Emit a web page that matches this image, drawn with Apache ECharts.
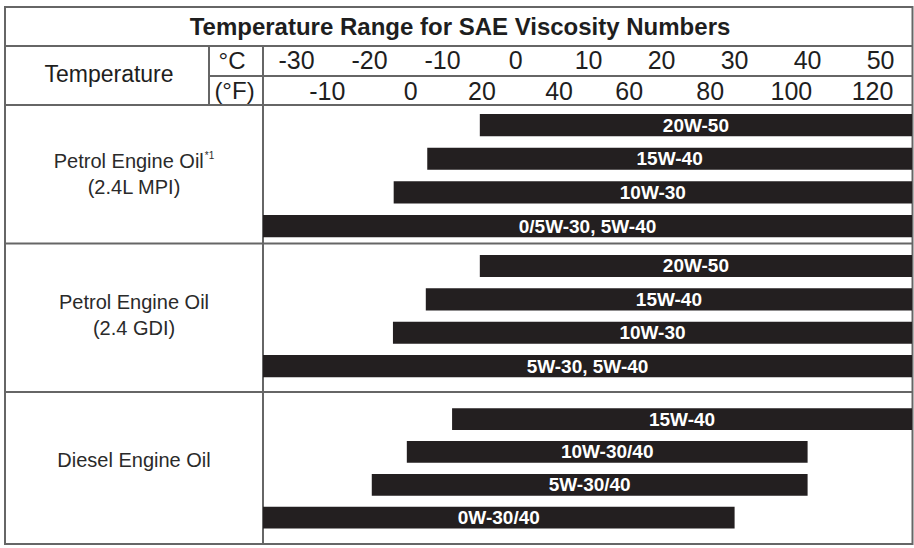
<!DOCTYPE html>
<html>
<head>
<meta charset="utf-8">
<title>Temperature Range for SAE Viscosity Numbers</title>
<script src="https://cdn.jsdelivr.net/npm/echarts@6/dist/echarts.min.js"></script>
<style>
  html, body { margin: 0; padding: 0; background: #fff; }
  #chart { width: 914px; height: 548px; }
</style>
</head>
<body>
<div id="chart"></div>
<script>
// temperature scale (°C) of the bar area, open-ended bars run to these limits
const C_MIN = -34.6
const C_MAX = 54.3

const celsiusTicks = [-30, -20, -10, 0, 10, 20, 30, 40, 50]
const fahrenheitTicks = [-10, 0, 20, 40, 60, 80, 100, 120]

// Petrol Engine Oil (2.4L MPI)
const mpiGrades = ['20W-50', '15W-40', '10W-30', '0/5W-30, 5W-40']
const mpiLow = [-4.9, -12.1, -16.7, C_MIN]
const mpiHigh = [C_MAX, C_MAX, C_MAX, C_MAX]

// Petrol Engine Oil (2.4 GDI)
const gdiGrades = ['20W-50', '15W-40', '10W-30', '5W-30, 5W-40']
const gdiLow = [-4.9, -12.3, -16.8, C_MIN]
const gdiHigh = [C_MAX, C_MAX, C_MAX, C_MAX]

// Diesel Engine Oil
const dieselGrades = ['15W-40', '10W-30/40', '5W-30/40', '0W-30/40']
const dieselLow = [-8.7, -14.9, -19.7, C_MIN]
const dieselHigh = [C_MAX, 40, 40, 30]

const FONT = '"Liberation Sans", Arial, Helvetica, sans-serif'
const LINE = '#666'
const INK = '#231f20'

const toF = c => c * 1.8 + 32

function barSeries(idx, grades, low, high) {
  return {
    type: 'custom',
    xAxisIndex: idx === 0 ? 0 : idx + 1,
    yAxisIndex: idx,
    data: grades.map((g, i) => [i, low[i], high[i]]),
    renderItem: function (params, api) {
      const cat = api.value(0)
      const start = api.coord([api.value(1), cat])
      const end = api.coord([api.value(2), cat])
      const h = api.size([0, 1])[1] * 0.66
      const cs = params.coordSys
      const shape = echarts.graphic.clipRectByRect(
        { x: start[0], y: start[1] - h / 2, width: end[0] - start[0], height: h },
        { x: cs.x, y: cs.y, width: cs.width, height: cs.height }
      )
      return {
        type: 'rect',
        shape: shape,
        style: { fill: INK },
        textContent: {
          style: {
            text: grades[params.dataIndex],
            fill: '#fff',
            fontSize: 19,
            fontWeight: 'bold',
            fontFamily: FONT
          }
        },
        textConfig: { position: 'inside' }
      }
    }
  }
}

function hLine(x1, x2, y) {
  return { type: 'line', shape: { x1: x1, y1: y, x2: x2, y2: y }, style: { stroke: LINE, lineWidth: 2 }, z: 1 }
}
function vLine(x, y1, y2) {
  return { type: 'line', shape: { x1: x, y1: y1, x2: x, y2: y2 }, style: { stroke: LINE, lineWidth: 2 }, z: 1 }
}
function label(x, y, text, size, weight) {
  return {
    type: 'text', x: x, y: y, z: 5,
    style: {
      text: text, fill: '#1e1e1e', fontSize: size, fontWeight: weight || 'normal',
      fontFamily: FONT, align: 'center', verticalAlign: 'middle'
    }
  }
}
function rowLabel(x, y, text) {
  return {
    type: 'text', x: x, y: y, z: 5,
    style: {
      text: text, align: 'center', verticalAlign: 'middle',
      rich: {
        a: { fontSize: 20, lineHeight: 26, fill: '#2a2a2a', fontFamily: FONT },
        s: { fontSize: 10, lineHeight: 26, fill: '#2a2a2a', fontFamily: FONT, verticalAlign: 'top', padding: [2, 0, 0, 1] }
      }
    }
  }
}

// the printed °F labels sit a little off the true scale near its low end
const fLabelStyle = { fontSize: 25, color: '#1e1e1e', fontFamily: FONT }
const fShift = { '-10': -18, '0': 25, '20': 15, '40': 11 }
const fRich = {}
Object.keys(fShift).forEach((k, i) => {
  const s = fShift[k]
  fRich['s' + i] = Object.assign({ padding: s < 0 ? [0, -2 * s, 0, 0] : [0, 0, 0, 2 * s] }, fLabelStyle)
})
function fLabel(v) {
  const i = Object.keys(fShift).indexOf(String(v))
  return i < 0 ? String(v) : '{s' + i + '|' + v + '}'
}

const hiddenX = (grid) => ({ type: 'value', gridIndex: grid, min: C_MIN, max: C_MAX, show: false })
const hiddenY = (grid, grades) => ({ type: 'category', gridIndex: grid, data: grades, inverse: true, show: false })

const chart = echarts.init(document.getElementById('chart'), null, { renderer: 'svg' })
chart.setOption({
  animation: false,
  backgroundColor: '#fff',
  grid: [
    { left: 263, right: 2, top: 108.2, height: 134.8 },
    { left: 263, right: 2, top: 249.3, height: 133.5 },
    { left: 263, right: 2, top: 402.6, height: 131.5 }
  ],
  xAxis: [
    {
      // °C scale, shown in the header
      type: 'value', gridIndex: 0, position: 'top', min: C_MIN, max: C_MAX,
      axisLine: { show: false }, axisTick: { show: false }, splitLine: { show: false },
      axisLabel: {
        customValues: celsiusTicks, margin: 48.5, verticalAlign: 'middle',
        fontSize: 25, color: '#1e1e1e', fontFamily: FONT
      }
    },
    {
      // °F scale, same span converted
      type: 'value', gridIndex: 0, position: 'top', min: toF(C_MIN), max: toF(C_MAX),
      axisLine: { show: false }, axisTick: { show: false }, splitLine: { show: false },
      axisLabel: {
        customValues: fahrenheitTicks, margin: 17.5, verticalAlign: 'middle',
        fontSize: 25, color: '#1e1e1e', fontFamily: FONT,
        formatter: fLabel, rich: fRich
      }
    },
    hiddenX(1),
    hiddenX(2)
  ],
  yAxis: [
    hiddenY(0, mpiGrades),
    hiddenY(1, gdiGrades),
    hiddenY(2, dieselGrades)
  ],
  series: [
    barSeries(0, mpiGrades, mpiLow, mpiHigh),
    barSeries(1, gdiGrades, gdiLow, gdiHigh),
    barSeries(2, dieselGrades, dieselLow, dieselHigh)
  ],
  graphic: [
    // table frame
    { type: 'rect', shape: { x: 5, y: 7, width: 907.5, height: 537 }, style: { fill: null, stroke: LINE, lineWidth: 2 }, z: 1 },
    hLine(5, 912.5, 46),
    hLine(209, 912.5, 76),
    hLine(5, 912.5, 105),
    hLine(5, 912.5, 243.5),
    hLine(5, 912.5, 392),
    vLine(209, 46, 105),
    vLine(263, 46, 544),
    // header texts
    label(460, 26.5, 'Temperature Range for SAE Viscosity Numbers', 24, 'bold'),
    label(109, 74, 'Temperature', 23),
    label(232, 60, '°C', 24),
    label(234.5, 90.5, '(°F)', 24),
    // section names
    rowLabel(134, 174, '{a|Petrol Engine Oil}{s|*1}\n{a|(2.4L MPI)}'),
    rowLabel(134, 314.5, '{a|Petrol Engine Oil}\n{a|(2.4 GDI)}'),
    rowLabel(134, 460, '{a|Diesel Engine Oil}')
  ]
})
</script>
</body>
</html>
